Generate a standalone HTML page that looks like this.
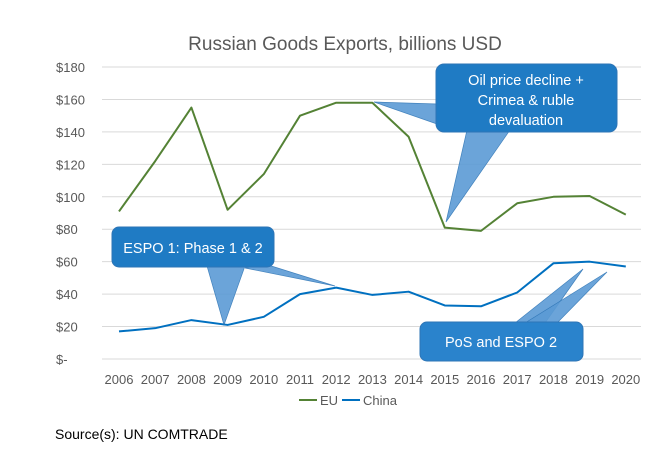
<!DOCTYPE html>
<html><head><meta charset="utf-8"><style>
body{margin:0;background:#fff;font-family:"Liberation Sans",sans-serif}
svg text{font-family:"Liberation Sans",sans-serif}
</style></head><body>
<svg width="669" height="454" xmlns="http://www.w3.org/2000/svg">
<text x="345" y="50" text-anchor="middle" font-size="19" fill="#595959">Russian Goods Exports, billions USD</text>
<g id="grid"></g><g id="ylab"></g><g id="xlab"></g><g id="lines"></g>
<g>
<polygon points="437,104 437,124 374,102" fill="#5b9bd5" stroke="#2e75b6" stroke-width="0.7" opacity="0.9"/>
<polygon points="467,130 510,130 446,222" fill="#5b9bd5" stroke="#2e75b6" stroke-width="0.7" opacity="0.9"/>
<rect x="436" y="64" width="181" height="68" rx="8" fill="#1f7bc4" stroke="#2e75b6"/>
<text x="526" y="85" text-anchor="middle" font-size="14.5" fill="#fff">Oil price decline +</text>
<text x="526" y="105" text-anchor="middle" font-size="14.5" fill="#fff">Crimea &amp; ruble</text>
<text x="526" y="125" text-anchor="middle" font-size="14.5" fill="#fff">devaluation</text>
</g>
<g>
<polygon points="207,266 245,266 224,325" fill="#5b9bd5" stroke="#2e75b6" stroke-width="0.7" opacity="0.9"/>
<polygon points="245,268 265,264 335,286" fill="#5b9bd5" stroke="#2e75b6" stroke-width="0.7" opacity="0.9"/>
<rect x="112" y="227" width="162" height="40" rx="7" fill="#1f7bc4" stroke="#2e75b6"/>
<text x="193" y="253" text-anchor="middle" font-size="14.5" fill="#fff">ESPO 1: Phase 1 &amp; 2</text>
</g>
<g>
<polygon points="515,323 545,323 583,269" fill="#5b9bd5" stroke="#2e75b6" stroke-width="0.7" opacity="0.9"/>
<polygon points="525,323 557,323 607,272" fill="#5b9bd5" stroke="#2e75b6" stroke-width="0.7" opacity="0.9"/>
<rect x="420" y="322" width="163" height="39" rx="7" fill="#2a83cc" stroke="#2e75b6"/>
<text x="501" y="347" text-anchor="middle" font-size="14.5" fill="#fff">PoS and ESPO 2</text>
</g>
<g>
<line x1="299" y1="400" x2="317" y2="400" stroke="#548235" stroke-width="2"/>
<text x="320" y="405" font-size="13" fill="#595959">EU</text>
<line x1="342" y1="400" x2="360" y2="400" stroke="#0070c0" stroke-width="2"/>
<text x="363" y="405" font-size="13" fill="#595959">China</text>
</g>
<text x="55" y="439" font-size="14" fill="#000">Source(s): UN COMTRADE</text>
</svg>
<script>
const years=[2006,2007,2008,2009,2010,2011,2012,2013,2014,2015,2016,2017,2018,2019,2020];
const euValues=[91,122,155,92,114,150,158,158,137,81,79,96,100,100.5,89];
const chinaValues=[17,19,24,21,26,40,44,39.5,41.5,33,32.5,41,59,60,57];
const yTicks=[0,20,40,60,80,100,120,140,160,180];
const yTickLabels=["$-","$20","$40","$60","$80","$100","$120","$140","$160","$180"];
const NS="http://www.w3.org/2000/svg";
function X(i){return 119+i*36.2}
function Y(v){return 359-v*1.622}
function mk(t,a,p){const e=document.createElementNS(NS,t);for(const k in a)e.setAttribute(k,a[k]);p.appendChild(e);return e}
const g=document.getElementById('grid'),yl=document.getElementById('ylab'),xl=document.getElementById('xlab'),ln=document.getElementById('lines');
yTicks.forEach((v,i)=>{
 const l=mk('line',{x1:102,x2:641,y1:Y(v),y2:Y(v),stroke:'#d9d9d9','stroke-width':1},g);
 
 
 const t=mk('text',{x:56,y:Y(v)+5,'font-size':13,fill:'#595959'},yl);
 t.textContent=yTickLabels[i];
 
 
});
years.forEach((y,i)=>{
 const t=mk('text',{x:X(i),y:384,'text-anchor':'middle','font-size':13,fill:'#595959'},xl);
 t.textContent=y;
 
 
});
function series(vals,color,name){
 const p=mk('polyline',{points:vals.map((v,i)=>X(i)+','+Y(v)).join(' '),fill:'none',stroke:color,'stroke-width':2,'stroke-linejoin':'round'},ln);
 
 
}
series(euValues,'#548235','eu-line');
series(chinaValues,'#0070c0','china-line');
</script>
</body></html>
